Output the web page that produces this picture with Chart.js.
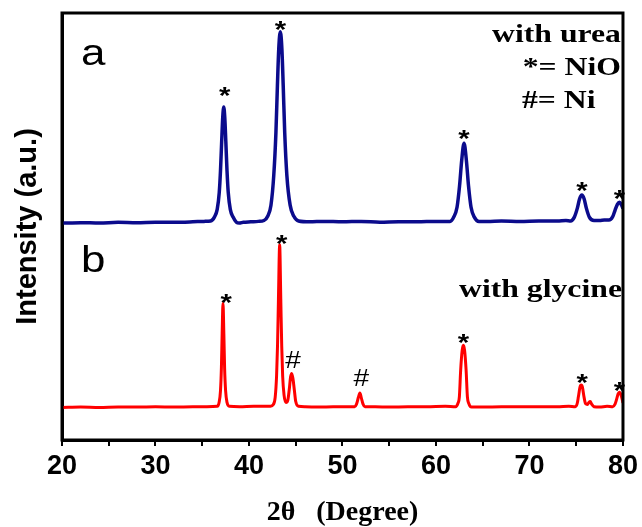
<!DOCTYPE html>
<html>
<head>
<meta charset="utf-8">
<script src="https://cdn.jsdelivr.net/npm/chart.js@4.4.0/dist/chart.umd.min.js"></script>
<style>
  html, body { margin: 0; padding: 0; background: #fff; }
  #wrap { width: 642px; height: 527px; }
</style>
</head>
<body>
<div id="wrap"><canvas id="xrd" width="642" height="527"></canvas></div>
<script>
'use strict';

// (a) sample prepared with urea -- 2theta (deg) and offset intensity (a.u.)
const ureaTheta = [
  20, 22, 24, 26, 28, 30, 32, 34, 35.2, 35.9, 36.3, 36.6, 36.82, 36.95, 37.08, 37.19, 37.3,
  37.41, 37.52, 37.65, 37.78, 38.0, 38.3, 38.65, 38.95, 39.4, 40.2, 41.0, 41.6, 42.0, 42.35,
  42.65, 42.88, 43.04, 43.18, 43.35, 43.52, 43.66, 43.82, 44.05, 44.4, 44.8, 45.3, 46.5, 48,
  50, 52, 54, 56, 58, 60, 61.0, 61.5, 61.9, 62.25, 62.52, 62.75, 63.0, 63.25, 63.48, 63.75,
  64.1, 64.6, 65.5, 67, 69, 71, 73, 73.9, 74.4, 74.8, 75.12, 75.36, 75.6, 75.84, 76.08, 76.4,
  76.9, 77.5, 78.0, 78.5, 78.9, 79.15, 79.4, 79.62, 79.85, 80.0,
];
const ureaIntensity = [
  50.8, 50.9, 50.8, 51.0, 50.9, 51.0, 51.0, 51.1, 51.2, 51.3, 52.2, 54.0, 58.0, 63.0, 70.0, 75.5, 78.0,
  75.5, 70.0, 63.0, 58.0, 54.0, 52.2, 51.0, 50.8, 51.0, 51.1, 51.2, 51.4, 52.4, 55.0,
  62.0, 72.0, 83.0, 91.5, 95.6, 91.5, 83.0, 72.0, 62.0, 55.0, 52.4, 51.3, 51.1, 51.2,
  51.1, 51.2, 51.0, 51.1, 51.1, 51.2, 51.2, 51.2, 52.2, 54.5, 59.5, 65.5, 69.5, 65.5, 59.5, 54.5,
  52.2, 51.2, 51.2, 51.3, 51.2, 51.3, 51.3, 51.4, 51.3, 52.2, 54.3, 56.5, 57.4, 56.5, 54.3, 52.2,
  51.4, 51.4, 51.5, 51.5, 52.3, 53.8, 55.2, 55.7, 55.0, 54.2,
];

// (b) sample prepared with glycine
const glycineTheta = [
  20, 22, 24, 26, 28, 30, 32, 34, 35.5, 36.6, 36.8, 36.95, 37.05, 37.13, 37.22, 37.31,
  37.39, 37.5, 37.65, 37.9, 39, 40.5, 41.5, 42.3, 42.6, 42.8, 42.95, 43.05, 43.15, 43.28,
  43.4, 43.5, 43.6, 43.75, 43.95, 44.15, 44.3, 44.45, 44.57, 44.7, 44.85, 45.0, 45.3, 46, 47.5,
  49, 50.5, 51.3, 51.5, 51.7, 51.86, 52.0, 52.2, 52.4, 53.5, 55, 57, 59, 61, 62.1, 62.35,
  62.5, 62.64, 62.8, 62.93, 63.06, 63.22, 63.36, 63.5, 63.8, 65, 67, 69, 71, 73, 74.2, 74.9,
  75.1, 75.23, 75.4, 75.53, 75.66, 75.83, 76.0, 76.2, 76.35, 76.5, 76.65, 76.9, 77.5, 78.3,
  78.9, 79.15, 79.3, 79.48, 79.62, 79.8, 80.0,
];
const glycineIntensity = [
  7.6, 7.7, 7.6, 7.7, 7.7, 7.8, 7.7, 7.8, 7.8, 7.9, 8.8, 11.5, 17.0, 25.0, 32.0, 25.0,
  17.0, 11.5, 8.8, 7.9, 7.8, 7.9, 7.9, 7.9, 8.3, 10.0, 15.0, 22.0, 33.0, 45.7,
  33.0, 22.0, 15.0, 10.5, 8.8, 9.3, 11.7, 14.8, 15.6, 14.4, 11.7, 9.0, 7.9, 7.8, 7.7,
  7.8, 7.8, 7.8, 8.4, 10.0, 11.0, 10.0, 8.4, 7.8, 7.8, 7.7, 7.8, 7.8, 7.9, 7.8, 8.6,
  10.1, 16.4, 21.0, 22.2, 21.0, 16.4, 10.1, 8.6, 7.7, 7.7, 7.8, 7.8, 7.8, 7.8, 7.9, 7.8,
  8.5, 10.1, 12.4, 12.9, 12.4, 10.1, 8.5, 8.3, 8.8, 9.0, 8.4, 7.8, 7.7, 7.9,
  7.8, 8.4, 9.4, 10.8, 11.2, 10.5, 8.7,
];

// peak markers: * = NiO, # = Ni
const markerTheta  = [37.4, 43.37, 63.0, 75.6, 79.62, 37.55, 43.5, 44.7, 52.0, 62.93, 75.65, 79.62];
const markerLevel  = [82.0, 97.4, 71.9, 59.7, 57.8, 33.5, 47.3, 18.7, 14.5, 24.1, 14.8, 12.9];
const markerSymbol = ['*', '*', '*', '*', '*', '*', '*', '#', '#', '*', '*', '*'];

const xTicks = [20, 30, 40, 50, 60, 70, 80];

const SANS  = '"Liberation Sans", Arial, sans-serif';
const SERIF = '"Liberation Serif", "Times New Roman", serif';
const STRETCH = 1.22; // the original lettering is drawn a little wide

function toPoints(xs, ys) {
  return xs.map((x, i) => ({ x, y: ys[i] }));
}

function wideText(ctx, text, x, y, align) {
  ctx.save();
  ctx.translate(x, y);
  ctx.scale(STRETCH, 1);
  ctx.textAlign = align;
  ctx.fillText(text, 0, 0);
  ctx.restore();
}

const decorPlugin = {
  id: 'decor',
  afterDatasetsDraw(chart) {
    const { ctx, chartArea: a, scales: { x, y } } = chart;
    ctx.save();

    // frame
    ctx.strokeStyle = '#000';
    ctx.lineWidth = 3;
    ctx.strokeRect(a.left, a.top, a.right - a.left, a.bottom - a.top);

    // peak markers
    ctx.fillStyle = '#000';
    ctx.textBaseline = 'alphabetic';
    markerTheta.forEach((t, i) => {
      const px = x.getPixelForValue(t);
      const py = y.getPixelForValue(markerLevel[i]);
      if (markerSymbol[i] === '*') {
        ctx.font = `bold 24px ${SANS}`;
        wideText(ctx, '*', px, py + 24 * 0.58, 'center');
      } else {
        ctx.font = `23px ${SANS}`;
        wideText(ctx, '#', px, py + 23 * 0.36, 'center');
      }
    });

    // panel letters
    ctx.font = `36px ${SANS}`;
    wideText(ctx, 'a', a.left + 19, a.top + 52, 'left');
    wideText(ctx, 'b', a.left + 19, a.top + 259, 'left');

    // notes
    ctx.font = `bold 26px ${SERIF}`;
    wideText(ctx, 'with urea', a.right - 2, a.top + 29, 'right');
    wideText(ctx, '*= NiO', a.right - 2, a.top + 62, 'right');
    wideText(ctx, '#= Ni', 522, a.top + 95, 'left');
    wideText(ctx, 'with glycine', a.right - 1, a.top + 284, 'right');

    ctx.restore();
  },
};

new Chart(document.getElementById('xrd'), {
  type: 'line',
  data: {
    datasets: [
      {
        label: 'with urea',
        data: toPoints(ureaTheta, ureaIntensity),
        borderColor: '#0b0b8c',
        borderWidth: 3.5,
        pointRadius: 0,
        cubicInterpolationMode: 'monotone',
      },
      {
        label: 'with glycine',
        data: toPoints(glycineTheta, glycineIntensity),
        borderColor: '#ff0000',
        borderWidth: 3,
        pointRadius: 0,
        cubicInterpolationMode: 'monotone',
      },
    ],
  },
  options: {
    responsive: false,
    animation: false,
    devicePixelRatio: 1,
    layout: { padding: { top: 13, right: 19, left: 0, bottom: 0 } },
    plugins: {
      legend: { display: false },
      tooltip: { enabled: false },
    },
    scales: {
      x: {
        type: 'linear',
        min: 20,
        max: 80,
        afterBuildTicks: scale => {
          scale.ticks = [];
          for (let v = 20; v <= 80; v += 5) scale.ticks.push({ value: v });
        },
        afterFit: scale => { scale.height = 87; },
        border: { display: true, color: '#000', width: 3 },
        grid: {
          drawOnChartArea: false,
          drawTicks: true,
          tickLength: 6,
          tickColor: '#000',
          lineWidth: 2,
        },
        ticks: {
          color: '#000',
          padding: 4,
          maxRotation: 0,
          autoSkip: false,
          font: { family: SANS, size: 27, weight: 'bold' },
          callback: v => (xTicks.includes(v) ? String(v) : ''),
        },
        title: {
          display: true,
          text: '2\u03B8   (Degree)',
          color: '#000',
          font: { family: SERIF, size: 28, weight: 'bold' },
          padding: { top: 0, bottom: -3 },
        },
      },
      y: {
        min: 0,
        max: 100,
        afterFit: scale => { scale.width = 62; },
        border: { display: true, color: '#000', width: 3 },
        grid: { display: false },
        ticks: { display: false },
        title: {
          display: true,
          text: 'Intensity (a.u.)',
          color: '#000',
          font: { family: SANS, size: 29, weight: 'bold' },
          padding: { top: 11, bottom: 0 },
        },
      },
    },
  },
  plugins: [decorPlugin],
});
</script>
</body>
</html>
